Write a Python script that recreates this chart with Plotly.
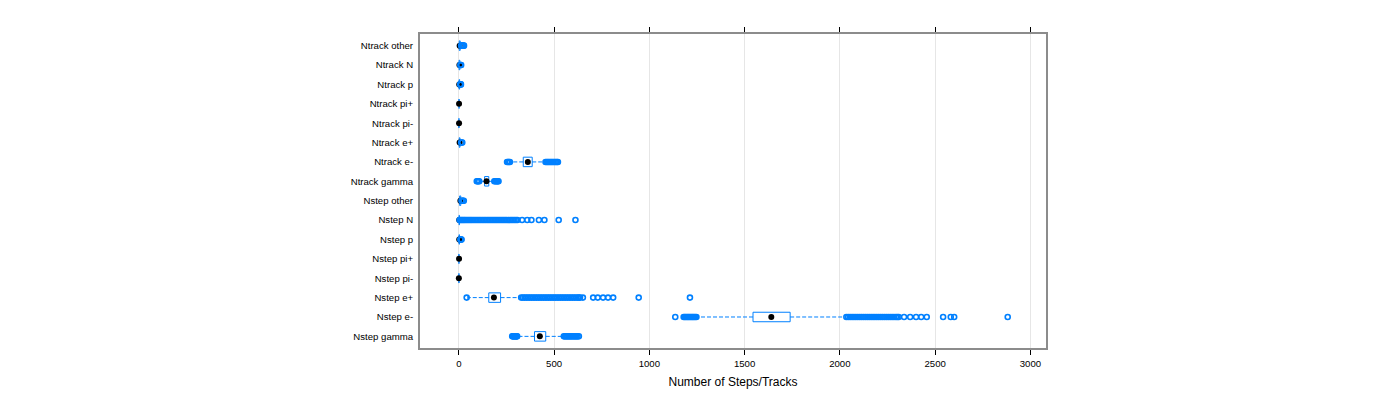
import plotly.graph_objects as go

categories = ["Nstep gamma", "Nstep e-", "Nstep e+", "Nstep pi-", "Nstep pi+", "Nstep p",
              "Nstep N", "Nstep other", "Ntrack gamma", "Ntrack e-", "Ntrack e+",
              "Ntrack pi-", "Ntrack pi+", "Ntrack p", "Ntrack N", "Ntrack other"]

lower_whisker = [310, 1250, 47, 0, 0, 0, 0, 0, 112, 275, 0, 0, 0, 0, 0, 0]
q1 = [397, 1544, 157, 0, 0, 1, 1, 4, 135, 338, 2, 0, 1, 1, 1, 2]
median = [425, 1640, 184, 0, 1, 2, 2, 8, 145, 362, 4, 1, 1, 2, 3, 4]
q3 = [456, 1739, 219, 1, 1, 3, 3, 10, 157, 385, 6, 1, 1, 4, 5, 7]
upper_whisker = [545, 2030, 320, 2, 2, 7, 6, 12, 180, 447, 10, 2, 1, 6, 7, 11]

out_nstep_gamma = [280, 284, 288, 292, 296, 300, 303, 306,
                   551, 557, 563, 569, 575, 581, 587, 593, 599, 605, 611, 617, 623, 630]
out_nstep_eminus = [1136, 1180, 1186, 1192, 1198, 1204, 1210, 1216, 1222, 1228, 1234, 1240,
                    1247,
                    2034, 2044, 2054, 2064, 2074, 2084, 2094, 2104, 2114, 2124, 2134, 2144,
                    2154, 2164, 2174, 2184, 2194, 2204, 2214, 2224, 2234, 2244, 2254, 2264,
                    2274, 2284, 2294, 2302, 2309, 2337, 2369, 2400, 2427, 2456, 2542, 2582,
                    2600, 2881]
out_nstep_eplus = [41, 327, 336, 345, 354, 363, 372, 381, 390, 399, 408, 417, 426, 435, 444,
                   453, 462, 471, 480, 489, 498, 507, 516, 525, 534, 543, 552, 561, 570, 579,
                   588, 597, 606, 615, 624, 631, 636, 651, 705, 729, 757, 783, 810, 944, 1213]
out_nstep_piminus = []
out_nstep_piplus = []
out_nstep_p = [8, 10, 12, 14]
out_nstep_N = [4, 9, 15, 21, 27, 33, 40, 47, 54, 61, 68, 76, 84, 92, 100, 108, 116, 124,
               132, 140, 148, 156, 164, 172, 180, 188, 196, 204, 212, 220, 228, 236, 244,
               252, 260, 268, 276, 284, 292, 300, 308, 332, 359, 381, 420, 449, 524, 612]
out_nstep_other = [14, 18, 22, 26]
out_ntrack_gamma = [94, 98, 102, 107, 186, 191, 196, 201, 205, 208]
out_ntrack_eminus = [253, 258, 263, 268,
                     455, 461, 467, 473, 479, 485, 491, 497, 503, 509, 515, 520]
out_ntrack_eplus = [12, 15, 18]
out_ntrack_piminus = []
out_ntrack_piplus = []
out_ntrack_p = [7, 9, 11]
out_ntrack_N = [8, 10, 12]
out_ntrack_other = [12, 15, 18, 21, 24, 27]

outliers = [out_nstep_gamma, out_nstep_eminus, out_nstep_eplus, out_nstep_piminus,
            out_nstep_piplus, out_nstep_p, out_nstep_N, out_nstep_other,
            out_ntrack_gamma, out_ntrack_eminus, out_ntrack_eplus, out_ntrack_piminus,
            out_ntrack_piplus, out_ntrack_p, out_ntrack_N, out_ntrack_other]

x_ticks = [0, 500, 1000, 1500, 2000, 2500, 3000]

BLUE = "#0080ff"
half_h = 0.245
cap_h = 0.12

box_x, box_y = [], []
wh_x, wh_y = [], []
out_x, out_y = [], []
for i in range(len(categories)):
    box_x += [q1[i], q3[i], q3[i], q1[i], q1[i], None]
    box_y += [i - half_h, i - half_h, i + half_h, i + half_h, i - half_h, None]
    wh_x += [q1[i], lower_whisker[i], None, q3[i], upper_whisker[i], None,
             lower_whisker[i], lower_whisker[i], None, upper_whisker[i], upper_whisker[i], None]
    wh_y += [i, i, None, i, i, None,
             i - cap_h, i + cap_h, None, i - cap_h, i + cap_h, None]
    for v in outliers[i]:
        out_x.append(v)
        out_y.append(i)

fig = go.Figure()
fig.add_trace(go.Scatter(x=box_x, y=box_y, mode="lines",
                         line=dict(color=BLUE, width=1), hoverinfo="skip"))
fig.add_trace(go.Scatter(x=wh_x, y=wh_y, mode="lines",
                         line=dict(color=BLUE, width=1, dash="4px,2px"), hoverinfo="skip"))
fig.add_trace(go.Scatter(x=median, y=list(range(len(categories))), mode="markers",
                         marker=dict(color="black", size=6, symbol="circle")))
fig.add_trace(go.Scatter(x=out_x, y=out_y, mode="markers",
                         marker=dict(symbol="circle-open", size=5, color=BLUE,
                                     line=dict(color=BLUE, width=1.6))))

fig.update_layout(
    width=1400, height=400,
    margin=dict(l=420, r=354, t=34, b=52),
    paper_bgcolor="white", plot_bgcolor="white",
    showlegend=False,
    font=dict(family="Liberation Sans, Arial, sans-serif", color="black"),
)
fig.update_xaxes(
    range=[-204, 3082], tickvals=x_ticks, ticktext=[str(t) for t in x_ticks],
    showgrid=True, gridcolor="#e6e6e6", gridwidth=1, zeroline=False,
    showline=True, linecolor="#8c8c8c", linewidth=2, mirror="ticks",
    ticks="outside", ticklen=5, tickcolor="black", tickwidth=1,
    tickfont=dict(size=9.6),
    title=dict(text="Number of Steps/Tracks", font=dict(size=12), standoff=10),
)
fig.update_yaxes(
    range=[-0.6, 15.6], tickvals=list(range(len(categories))), ticktext=categories,
    showgrid=False, zeroline=False,
    showline=True, linecolor="#8c8c8c", linewidth=2, mirror=True,
    ticks="", tickfont=dict(size=9.6), ticklabelstandoff=3,
)

fig.write_html("out.html")
